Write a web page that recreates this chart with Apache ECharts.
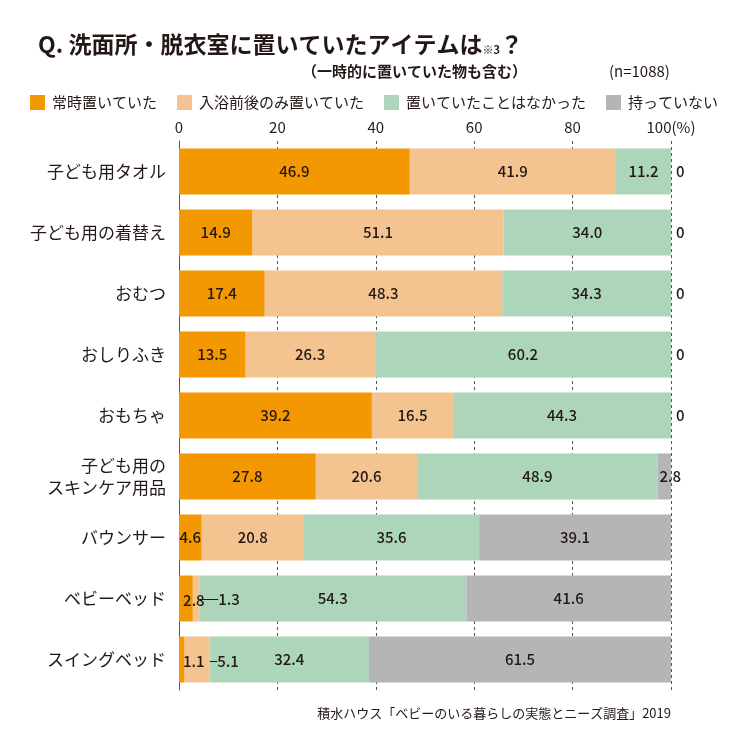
<!DOCTYPE html>
<html>
<head>
<meta charset="utf-8">
<script src="https://cdn.jsdelivr.net/npm/echarts@6/dist/echarts.min.js"></script>
<style>
  html, body { margin: 0; padding: 0; background: #fff; }
  #main { width: 735px; height: 750px; }
</style>
</head>
<body>
<div id="main"></div>
<script>
// 項目
var categories = ['子ども用タオル', '子ども用の着替え', 'おむつ', 'おしりふき', 'おもちゃ',
  '子ども用の\nスキンケア用品', 'バウンサー', 'ベビーベッド', 'スイングベッド'];
var seriesNames = ['常時置いていた', '入浴前後のみ置いていた', '置いていたことはなかった', '持っていない'];

// 各回答の割合(%)
var always = [46.9, 14.9, 17.4, 13.5, 39.2, 27.8, 4.6, 2.8, 1.1];
var bathOnly = [41.9, 51.1, 48.3, 26.3, 16.5, 20.6, 20.8, 1.3, 5.1];
var never = [11.2, 34.0, 34.3, 60.2, 44.3, 48.9, 35.6, 54.3, 32.4];
var notOwned = [0, 0, 0, 0, 0, 2.8, 39.1, 41.6, 61.5];

var xTicks = [0, 20, 40, 60, 80, 100];

var colors = ['#f39800', '#f3c390', '#acd5ba', '#b5b5b5'];
var seriesZ = [5, 4, 2, 2]; // 引き出し線・ずらしたラベルが隣の棒に隠れないように
var font = '"Noto Sans CJK JP", "Noto Sans", sans-serif';

// 小さい値のラベルをずらす (series-row) -> [dx, dy]
var labelShift = {
  '0-7': [8, 2],
  '1-7': [33, 1],
  '0-8': [12, 2],
  '1-8': [31, 2],
  '3-5': [6, 0]
};
var withLine = { '1-7': true, '1-8': true };

var myChart = echarts.init(document.getElementById('main'));

function makeSeries(idx, values) {
  return {
    name: seriesNames[idx],
    type: 'bar',
    stack: 'total',
    barWidth: 46,
    z: seriesZ[idx],
    itemStyle: { color: colors[idx] },
    label: {
      show: true,
      position: 'inside',
      color: '#231815',
      fontSize: 15,
      fontWeight: 500,
      fontFamily: font,
      formatter: function (p) {
        return p.value === 0 ? '0' : p.value.toFixed(1);
      }
    },
    labelLine: { show: true, lineStyle: { color: '#231815', width: 1 } },
    labelLayout: function (p) {
      var s = labelShift[idx + '-' + p.dataIndex];
      if (!s) return {};
      return { dx: s[0], dy: s[1] };
    },
    data: values.map(function (v, i) {
      var item = { value: v };
      if (v === 0) {
        item.label = { position: 'right', distance: 5 };
      }
      if (!withLine[idx + '-' + i]) {
        item.labelLine = { show: false };
      }
      return item;
    })
  };
}

var option = {
  animation: false,
  textStyle: { fontFamily: font },
  title: [
    {
      left: 38, top: 33, padding: 0,
      text: '{q|Q. 洗面所・脱衣室に置いていたアイテムは}{s|※3}{q|？}',
      textStyle: {
        rich: {
          q: { fontSize: 23, fontWeight: 'bold', color: '#231815', fontFamily: font },
          s: { fontSize: 11, fontWeight: 'bold', color: '#231815', fontFamily: font, padding: [10, 0, 0, 0] }
        }
      }
    },
    {
      left: 302, top: 64, padding: 0,
      text: '（一時的に置いていた物も含む）',
      textStyle: { fontSize: 15, fontWeight: 'bold', color: '#231815', fontFamily: font }
    },
    {
      left: 609, top: 64, padding: 0,
      text: '(n=1088)',
      textStyle: { fontSize: 15, fontWeight: 'normal', color: '#231815', fontFamily: font }
    },
    {
      right: 64, top: 707, padding: 0,
      text: '積水ハウス「ベビーのいる暮らしの実態とニーズ調査」2019',
      textStyle: { fontSize: 13, fontWeight: 'normal', color: '#231815', fontFamily: font }
    }
  ],
  legend: {
    left: 30, top: 95, padding: 0,
    width: 705,
    icon: 'rect',
    itemWidth: 15, itemHeight: 15,
    itemGap: 20,
    textStyle: { fontSize: 15, color: '#231815', fontFamily: font, padding: [0, 0, 0, 2] },
    data: seriesNames
  },
  grid: { left: 179, right: 64, top: 141, bottom: 60 },
  xAxis: {
    type: 'value',
    position: 'top',
    min: xTicks[0],
    max: xTicks[xTicks.length - 1],
    interval: 20,
    axisLine: { show: false },
    axisTick: { show: false },
    axisLabel: {
      fontSize: 15, color: '#231815', fontFamily: font, margin: 6,
      formatter: function (v) { return v === 100 ? '100(%)' : String(v); }
    },
    splitLine: { show: true, lineStyle: { type: [3, 3], color: '#555', width: 1 } }
  },
  yAxis: {
    type: 'category',
    inverse: true,
    data: categories,
    axisLine: { show: true, lineStyle: { color: '#555', width: 1 } },
    axisTick: { show: false },
    axisLabel: {
      fontSize: 17, color: '#231815', fontFamily: font, margin: 13, lineHeight: 22
    }
  },
  series: [
    makeSeries(0, always),
    makeSeries(1, bathOnly),
    makeSeries(2, never),
    makeSeries(3, notOwned)
  ]
};

myChart.setOption(option);
</script>
</body>
</html>
